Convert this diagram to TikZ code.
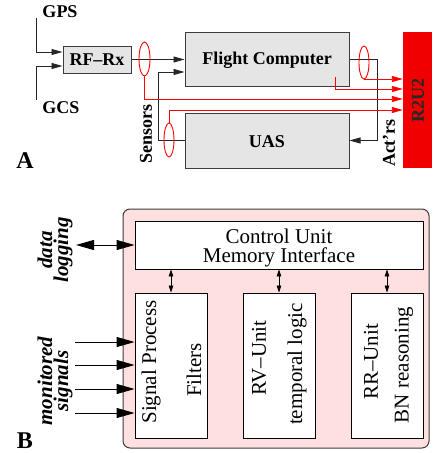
\documentclass[tikz,border=0pt]{standalone}
\usepackage{fontspec}
\setmainfont{Liberation Serif}
\usetikzlibrary{arrows.meta,shapes.geometric,calc}
\definecolor{boxgray}{RGB}{229,229,229}
\definecolor{edgegray}{RGB}{60,60,60}
\definecolor{pinkfill}{RGB}{255,224,224}
\definecolor{rbox}{RGB}{240,0,0}
\tikzset{
  gbox/.style={draw=edgegray, line width=1pt, fill=boxgray, inner sep=0pt, rectangle},
  wbox/.style={draw=black, line width=0.9pt, fill=white, inner sep=0pt, rectangle},
  blkarr/.style={draw=black!85, line width=0.9pt, -{Triangle[length=11pt,width=6pt]}},
  redarr/.style={draw=red, line width=0.9pt, -{Triangle[length=11pt,width=6pt]}, color=red},
  redell/.style={draw=red, line width=0.9pt, ellipse, inner sep=0pt},
  bigarr/.style={draw=black, line width=0.9pt, -{Triangle[length=18pt,width=10pt]}},
  bigdbl/.style={draw=black, line width=0.9pt, {Triangle[length=18pt,width=10pt]}-{Triangle[length=18pt,width=10pt]}},
  smdbl/.style={draw=black, line width=0.8pt, {Triangle[length=7pt,width=4.5pt]}-{Triangle[length=7pt,width=4.5pt]}},
  lblA/.style={font=\fontsize{18}{18}\selectfont\bfseries, inner sep=0pt},
  lblB/.style={font=\fontsize{21}{19}\selectfont, inner sep=0pt},
  lblBI/.style={font=\fontsize{21}{16}\selectfont\bfseries\itshape, inner sep=0pt, align=center},
}
\begin{document}
\begin{tikzpicture}[x=1pt,y=-1pt]
\useasboundingbox (0,0) rectangle (432,453);
% ---------- Part A ----------
\node[gbox, minimum width=68pt, minimum height=27pt] (rf) at (97,59.5) {};
\node[lblA] (rft) at (97,59.5) {RF--Rx};
\node[gbox, minimum width=164pt, minimum height=54pt] (fc) at (267,59) {};
\node[lblA] (fct) at (267,60) {Flight Computer};
\node[gbox, minimum width=164pt, minimum height=55pt] (uas) at (267,140.5) {};
\node[lblA] (uast) at (267,142) {UAS};
\node[fill=rbox, inner sep=0pt, minimum width=29pt, minimum height=136pt] (r2u2) at (417.5,100) {};
\node[lblA, rotate=90, text=black!85] (r2u2t) at (418,100) {R2U2};

\node[lblA] (gps) at (60,12) {GPS};
\node[lblA] (gcs) at (61,108) {GCS};
\node[lblA, rotate=90] (sens) at (146,134) {Sensors};
\node[lblA, rotate=90] (act) at (389,143) {Act’rs};
\node[font=\fontsize{24}{24}\selectfont\bfseries, inner sep=0pt] (labA) at (25,161) {A};

\coordinate (gpsT) at (36,18);
\coordinate (gcsB) at (36,100);
\draw[blkarr] (gpsT) |- ([yshift=7.5pt]rf.west);
\draw[blkarr] (gcsB) |- ([yshift=-6.5pt]rf.west);
\draw[blkarr] (rf.east) -- (fc.west |- rf.east);
\coordinate (sx) at (158,72);
\draw[blkarr] (uas.west) -| (sx) -- (fc.west |- sx);
\coordinate (ax) at (377,59);
\draw[blkarr] (fc.east) -- (ax) |- (uas.east);

\node[redell, minimum width=11pt, minimum height=34pt] (e1) at (144.5,59) {};
\node[redell, minimum width=10pt, minimum height=34pt] (e2) at (169,140) {};
\node[redell, minimum width=10pt, minimum height=33pt] (e3) at (364,62.5) {};
\coordinate (fcin) at (335,77);
\draw[redarr] (e3.south) |- ([yshift=21pt]r2u2.west);
\draw[redarr] (fcin) |- ([yshift=11pt]r2u2.west);
\draw[redarr] (e1.south) |- ([yshift=1pt]r2u2.west);
\draw[redarr] (e2.north) |- ([yshift=-10pt]r2u2.west);

% ---------- Part B ----------
\node[draw=edgegray, line width=1pt, fill=pinkfill, rounded corners=7pt, inner sep=0pt,
      minimum width=306pt, minimum height=239pt] (pb) at (276,328.5) {};
\node[wbox, minimum width=288pt, minimum height=48pt] (cu) at (279,245) {};
\node[lblB, align=center] (cut) at (279,248) {Control Unit\\Memory Interface};
\node[wbox, minimum width=72pt, minimum height=145pt] (sp) at (171,365.5) {};
\node[wbox, minimum width=72pt, minimum height=145pt] (rv) at (279,365.5) {};
\node[wbox, minimum width=72pt, minimum height=145pt] (rr) at (387,365.5) {};

\node[lblB, rotate=90] (sp1) at (151,362) {Signal Process};
\node[lblB, rotate=90] (sp2) at (194,370) {Filters};
\node[lblB, rotate=90] (rv1) at (259,358) {RV--Unit};
\node[lblB, rotate=90] (rv2) at (297,364) {temporal logic};
\node[lblB, rotate=90] (rr1) at (371,362) {RR--Unit};
\node[lblB, rotate=90] (rr2) at (404,365) {BN reasoning};

\draw[smdbl] (sp.north) -- (sp.north |- cu.south);
\draw[smdbl] (rv.north) -- (rv.north |- cu.south);
\draw[smdbl] (rr.north) -- (rr.north |- cu.south);

\coordinate (dl) at (76,245);
\draw[bigdbl] (dl) -- (cu.west);
\coordinate (m1) at (75,342);
\coordinate (m2) at (75,365);
\coordinate (m3) at (75,389);
\coordinate (m4) at (75,413);
\draw[bigarr] (m1) -- (sp.west |- m1);
\draw[bigarr] (m2) -- (sp.west |- m2);
\draw[bigarr] (m3) -- (sp.west |- m3);
\draw[bigarr] (m4) -- (sp.west |- m4);

\node[lblBI, rotate=90] (dlt) at (55,250) {data\\logging};
\node[lblBI, rotate=90] (mst) at (55,381) {monitored\\signals};
\node[font=\fontsize{24}{24}\selectfont\bfseries, inner sep=0pt] (labB) at (25,441) {B};
\end{tikzpicture}
\end{document}
